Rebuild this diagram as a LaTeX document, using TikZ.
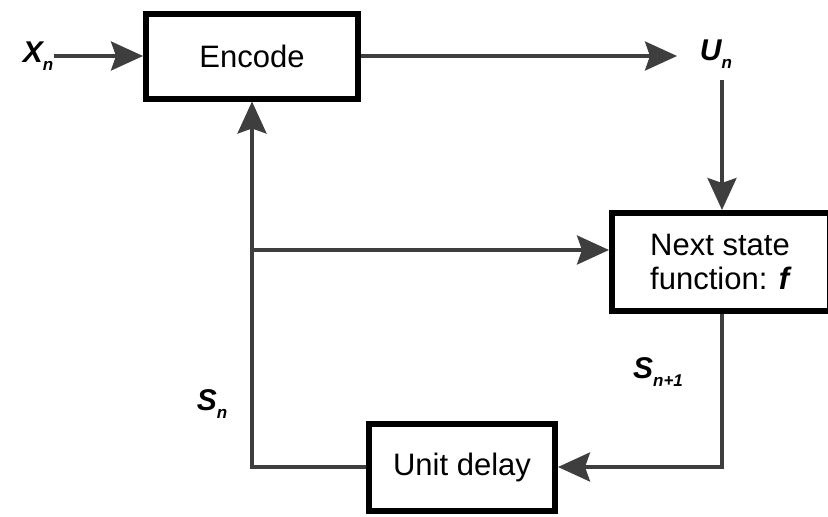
\documentclass[tikz,border=0pt]{standalone}
\usepackage{fontspec}
\setmainfont{Liberation Sans}
\usetikzlibrary{arrows.meta}
\definecolor{conn}{RGB}{62,62,62}
\newcommand{\varlbl}[2]{{\fontsize{30}{32}\selectfont\bfseries\itshape #1\raisebox{-0.5ex}{\fontsize{17}{18}\selectfont #2}}}
\begin{document}
\begin{tikzpicture}[x=1pt,y=-1pt,
  blk/.style={draw=black,line width=6pt,fill=white,inner sep=0pt,font=\fontsize{31}{37}\selectfont},
  conline/.style={draw=conn,line width=3.5pt},
  arr/.style={conline,-{Stealth[length=32pt,width=29pt,inset=5pt]}},
  lbl/.style={inner sep=0pt}]
\useasboundingbox (0,0) rectangle (828,517);
\node[blk,minimum width=212pt,minimum height=85pt] (enc) at (252,56) {Encode};
\node[blk,minimum width=218pt,minimum height=98pt,align=left] (next) at (721,262) {Next state\\[-3pt]function: \textbf{\textit{f}}};
\node[blk,minimum width=186pt,minimum height=87pt] (delay) at (462,467) {Unit delay};
\node[lbl] (xn) at (38,56) {\varlbl{X}{n}};
\node[lbl] (un) at (716,54) {\varlbl{U}{n}};
\node[lbl] (sn) at (212,404) {\varlbl{S}{n}};
\node[lbl] (sn1) at (658,372) {\varlbl{S}{n+1}};
\coordinate (ustart) at (722,80);
\coordinate (br) at (253,250);
\draw[arr] (xn.east) ++(1pt,0) -- (enc.west);
\draw[arr] (enc.east) -- (677,56);
\draw[arr] (ustart) -- (ustart |- next.north);
\draw[arr] (ustart |- next.south) |- (delay.east);
\draw[arr] (delay.west) -| (enc.south);
\draw[arr] (br) -- (br -| next.west);
\end{tikzpicture}
\end{document}
